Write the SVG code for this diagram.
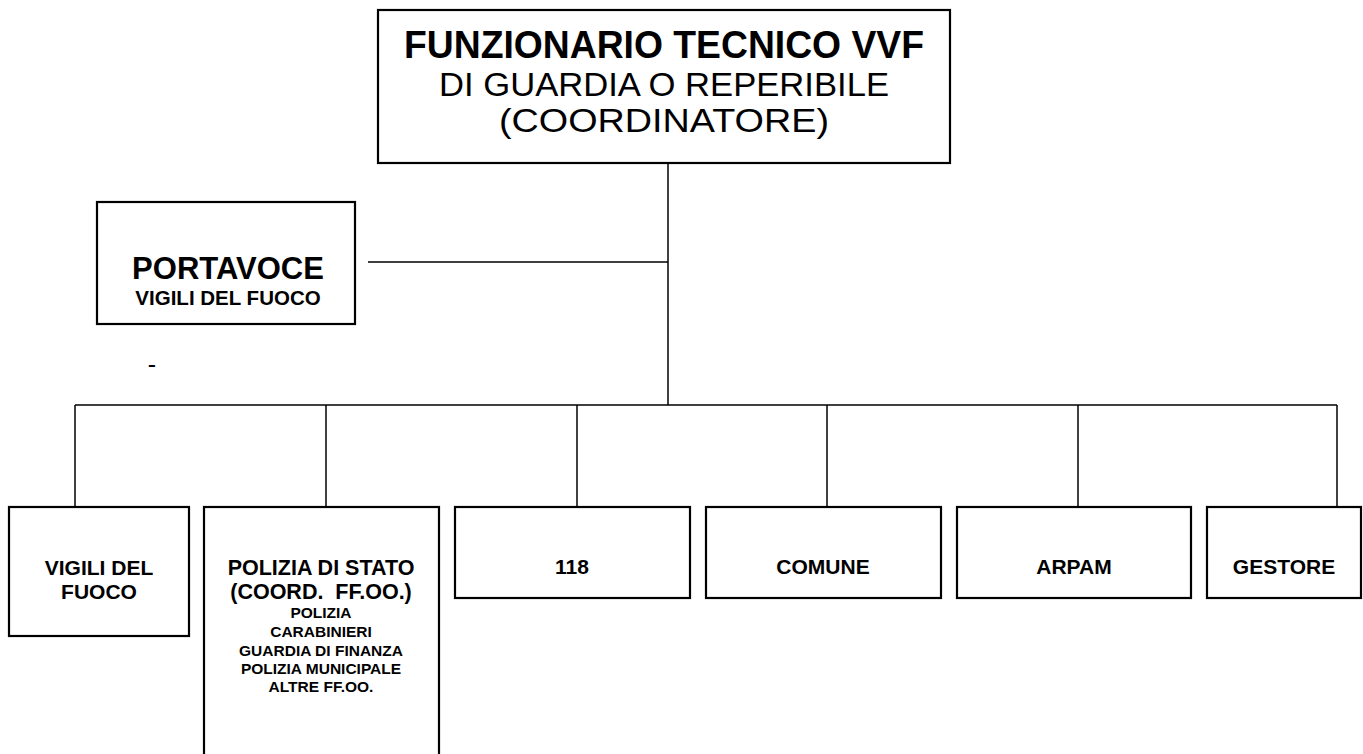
<svg xmlns="http://www.w3.org/2000/svg" width="1363" height="754" viewBox="0 0 1363 754">
<style>
.box{fill:#fff;stroke:#000;stroke-width:2.2}
.ln{stroke:#000;stroke-width:1.5;fill:none}
text{font-family:"Liberation Sans",Arial,sans-serif;text-anchor:middle;fill:#000}
.b{font-weight:bold}
</style>
<rect width="1363" height="754" fill="#fff"/>
<g id="connectors">
<line class="ln" x1="668" y1="163" x2="668" y2="405"/>
<line class="ln" x1="368" y1="262" x2="668" y2="262"/>
<line class="ln" x1="75" y1="405" x2="1337" y2="405" stroke-width="2"/>
<line class="ln" x1="75" y1="405" x2="75" y2="507"/>
<line class="ln" x1="326" y1="405" x2="326" y2="507"/>
<line class="ln" x1="577" y1="405" x2="577" y2="507"/>
<line class="ln" x1="827" y1="405" x2="827" y2="507"/>
<line class="ln" x1="1078" y1="405" x2="1078" y2="507"/>
<line class="ln" x1="1337" y1="405" x2="1337" y2="507"/>
</g>
<g id="coordinatore">
<rect class="box" x="378" y="10" width="572" height="153"/>
<text class="b" x="664" y="58" font-size="39" textLength="520" lengthAdjust="spacingAndGlyphs">FUNZIONARIO TECNICO VVF</text>
<text x="664" y="96" font-size="33" textLength="450" lengthAdjust="spacingAndGlyphs">DI GUARDIA O REPERIBILE</text>
<text x="664" y="132" font-size="33" textLength="330" lengthAdjust="spacingAndGlyphs">(COORDINATORE)</text>
</g>
<g id="portavoce">
<rect class="box" x="97" y="202" width="258" height="122"/>
<text class="b" x="228" y="279" font-size="31">PORTAVOCE</text>
<text class="b" x="228" y="305" font-size="20.5">VIGILI DEL FUOCO</text>
</g>
<text x="152" y="373" font-size="25">-</text>
<g id="vvf">
<rect class="box" x="9" y="507" width="180" height="129"/>
<text class="b" x="99" y="575" font-size="21">VIGILI DEL</text>
<text class="b" x="99" y="599" font-size="21">FUOCO</text>
</g>
<g id="polizia">
<rect class="box" x="204" y="507" width="235" height="260"/>
<text class="b" x="321" y="575" font-size="21.5">POLIZIA DI STATO</text>
<text class="b" x="321" y="599" font-size="21.5" xml:space="preserve">(COORD.  FF.OO.)</text>
<text class="b" x="321" y="618" font-size="15.5">POLIZIA</text>
<text class="b" x="321" y="637" font-size="15.5">CARABINIERI</text>
<text class="b" x="321" y="656" font-size="15.5">GUARDIA DI FINANZA</text>
<text class="b" x="321" y="674" font-size="15.5">POLIZIA MUNICIPALE</text>
<text class="b" x="321" y="692" font-size="15.5">ALTRE FF.OO.</text>
</g>
<g id="n118">
<rect class="box" x="455" y="507" width="235" height="91"/>
<text class="b" x="572" y="574" font-size="21">118</text>
</g>
<g id="comune">
<rect class="box" x="706" y="507" width="235" height="91"/>
<text class="b" x="823" y="574" font-size="21">COMUNE</text>
</g>
<g id="arpam">
<rect class="box" x="957" y="507" width="234" height="91"/>
<text class="b" x="1074" y="574" font-size="21">ARPAM</text>
</g>
<g id="gestore">
<rect class="box" x="1207" y="507" width="154" height="91"/>
<text class="b" x="1284" y="574" font-size="21">GESTORE</text>
</g>
</svg>
